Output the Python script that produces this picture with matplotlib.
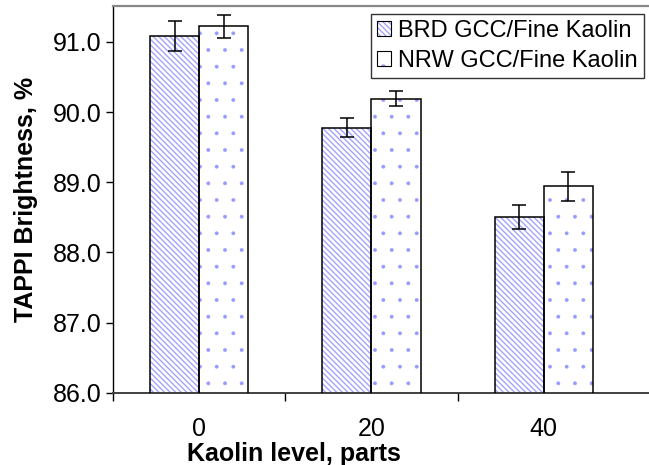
import matplotlib.pyplot as plt
import numpy as np
from matplotlib.patches import Patch

levels = ["0", "20", "40"]
brd_vals = [91.08, 89.78, 88.51]
brd_err = [0.21, 0.14, 0.17]
nrw_vals = [91.22, 90.19, 88.94]
nrw_err = [0.16, 0.11, 0.21]
series_names = ["BRD GCC/Fine Kaolin", "NRW GCC/Fine Kaolin"]

plt.rcParams["font.family"] = ["Liberation Sans", "DejaVu Sans"]
plt.rcParams["hatch.linewidth"] = 1.0

HATCH_COLOR = "#a4a4ff"
DOT_COLOR = "#9898ff"
FS = 18


def draw_bars(ax, xpos, vals, errs, hatch, hcolor, hlw, width):
    # hatch layer first, then the black outline on top
    bars = ax.bar(xpos, vals, width, color="white", edgecolor=hcolor,
                  hatch=hatch, linewidth=0, zorder=2)
    for b in bars:
        if hasattr(b, "set_hatch_linewidth"):
            b.set_hatch_linewidth(hlw)
    ax.bar(xpos, vals, width, fill=False, edgecolor="black",
           linewidth=1.1, zorder=3)
    ax.errorbar(xpos, vals, yerr=errs, fmt="none", ecolor="black",
                elinewidth=1.1, capsize=5, capthick=1.1, zorder=4)


fig = plt.figure(figsize=(6.49, 4.65), dpi=100)
ax = fig.add_axes([0.174, 0.155, 0.826, 0.832])

x = np.arange(len(levels))
w = 0.285
draw_bars(ax, x - w / 2, brd_vals, brd_err, "\\\\\\\\\\\\", HATCH_COLOR, 1.0, w)
draw_bars(ax, x + w / 2, nrw_vals, nrw_err, ".", DOT_COLOR, 0.3, w)

ax.set_ylim(86, 91.51)
ax.set_xlim(-0.5, 2.61)
yt = np.arange(86, 91.01, 1.0)
ax.set_yticks(yt, [f"{v:.1f}" for v in yt])
ax.tick_params(axis="y", length=5, width=1, pad=3, labelsize=FS)

ax.set_xticks(x, levels)
ax.set_xticks([-0.5, 0.5, 1.5], minor=True)
ax.tick_params(axis="x", which="major", length=0, pad=17, labelsize=FS)
ax.tick_params(axis="x", which="minor", length=6, width=1)

ax.spines["right"].set_visible(False)
ax.spines["top"].set_color("#888888")
ax.spines["top"].set_linewidth(1.6)
ax.spines["left"].set_linewidth(1.0)
ax.spines["bottom"].set_color("#404040")
ax.spines["bottom"].set_linewidth(1.4)

ax.set_xlabel("Kaolin level, parts", fontsize=FS, fontweight="bold")
ax.xaxis.set_label_coords(0.338, -0.128)
ax.set_ylabel("TAPPI Brightness, %", fontsize=FS, fontweight="bold")
ax.yaxis.set_label_coords(-0.14, 0.5)

handles = []
for hatch, hc in [("\\\\\\\\\\\\", HATCH_COLOR), (".", DOT_COLOR)]:
    handles.append((Patch(facecolor="white", edgecolor=hc, hatch=hatch, linewidth=0),
                    Patch(fill=False, edgecolor="black", linewidth=0.8)))
leg = ax.legend(handles, series_names, loc="upper right",
                bbox_to_anchor=(0.992, 0.970), bbox_transform=fig.transFigure,
                borderaxespad=0, fontsize=17, frameon=True, fancybox=False,
                handlelength=0.6, handleheight=0.6, handletextpad=0.3,
                labelspacing=0.35, borderpad=0.25)
leg.get_frame().set_edgecolor("black")
leg.get_frame().set_linewidth(1.0)

fig.savefig("out.png", dpi=100)
